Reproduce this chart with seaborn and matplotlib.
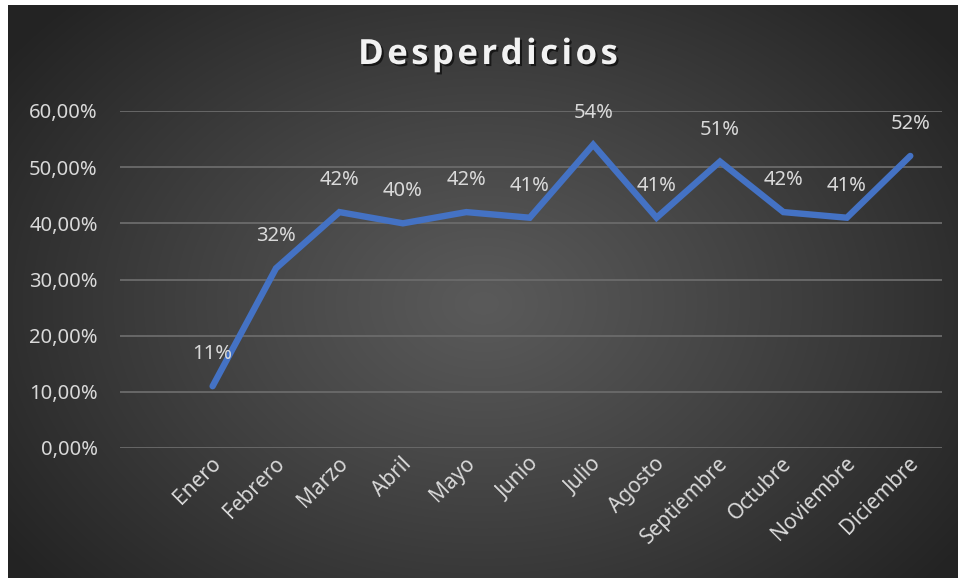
import numpy as np
import pandas as pd
import matplotlib
matplotlib.use("Agg")
import matplotlib.pyplot as plt
import matplotlib.patheffects as pe
import matplotlib.transforms as mtransforms
from matplotlib.ticker import FuncFormatter
import seaborn as sns

# ---- data ----
months = ["Enero", "Febrero", "Marzo", "Abril", "Mayo", "Junio", "Julio",
          "Agosto", "Septiembre", "Octubre", "Noviembre", "Diciembre"]
values = [0.11, 0.32, 0.42, 0.40, 0.42, 0.41, 0.54, 0.41, 0.51, 0.42, 0.41, 0.52]
point_labels = ["11%", "32%", "42%", "40%", "42%", "41%", "54%", "41%", "51%", "42%", "41%", "52%"]
yticks = [0.0, 0.1, 0.2, 0.3, 0.4, 0.5, 0.6]
title = "Desperdicios"

sns.set_theme(style="dark")
plt.rcParams['font.family'] = ['Noto Sans', 'DejaVu Sans']

W, H = 958, 578
fig = plt.figure(figsize=(W / 100, H / 100), dpi=100, facecolor="white")

# background radial gradient (chart area, white strip on top and left)
bg = fig.add_axes([8 / W, 0, (W - 8) / W, (H - 5) / H], zorder=-10)
bw, bh = W - 8, H - 5
yy, xx = np.mgrid[0:bh, 0:bw]
cx, cy = 0.5 * bw, 0.52 * bh
d = np.sqrt(((xx - cx) / (0.62 * bw)) ** 2 + ((yy - cy) / (0.75 * bh)) ** 2)
d = np.clip(d, 0, 1)
c_in, c_out = 0x5a / 255, 0x23 / 255
g = c_in + (c_out - c_in) * d ** 1.1
bg.imshow(np.dstack([g, g, g]), aspect="auto", extent=[0, 1, 0, 1], origin="upper")
bg.set_axis_off()

left, right = 120 / W, 942 / W
bottom, top = (H - 448) / H, (H - 111) / H
ax = fig.add_axes([left, bottom, right - left, top - bottom])
ax.set_facecolor("none")

df = pd.DataFrame({"Mes": months, "Valor": values})
sns.lineplot(data=df, x="Mes", y="Valor", sort=False, ax=ax,
             color="#4472C4", linewidth=4.6, solid_capstyle="round",
             solid_joinstyle="miter")

ax.set_xlim(-1.46, 11.5)
ax.set_ylim(0, 0.6)
ax.set_yticks(yticks)
ax.yaxis.set_major_formatter(FuncFormatter(lambda v, p: f"{v * 100:.2f}%".replace(".", ",")))
ax.grid(True, axis="y", color="#6b6b6b", linewidth=1.3)
ax.grid(False, axis="x")
for s in ax.spines.values():
    s.set_visible(False)
ax.set_xlabel("")
ax.set_ylabel("")
ax.tick_params(axis="y", length=0, pad=16, labelsize=14.5, labelcolor="#d9d9d9")
ax.tick_params(axis="x", length=0, pad=9, labelsize=15, labelcolor="#d9d9d9")
ax.set_xticks(range(len(months)))
ax.set_xticklabels(months, rotation=45, ha="right", va="center", rotation_mode="anchor")
shift = mtransforms.ScaledTranslation(5 / 100, 0, fig.dpi_scale_trans)
for t in ax.get_xticklabels():
    t.set_transform(t.get_transform() + shift)

for i, (v, lab) in enumerate(zip(values, point_labels)):
    ax.annotate(lab, (i, v), xytext=(0, 23), textcoords="offset points",
                ha="center", va="center", fontsize=14.5, color="#d9d9d9")

spaced = "\u200a".join(title)
fig.text(488 / W, 1 - 55 / H, spaced, ha="center", va="center",
         fontsize=25, fontweight="bold", color="#f2f2f2",
         family=["Open Sans", "DejaVu Sans"],
         path_effects=[pe.withSimplePatchShadow(offset=(1.5, -1.5), shadow_rgbFace="black", alpha=0.6)])

fig.savefig("out.png", dpi=100, facecolor=fig.get_facecolor())
